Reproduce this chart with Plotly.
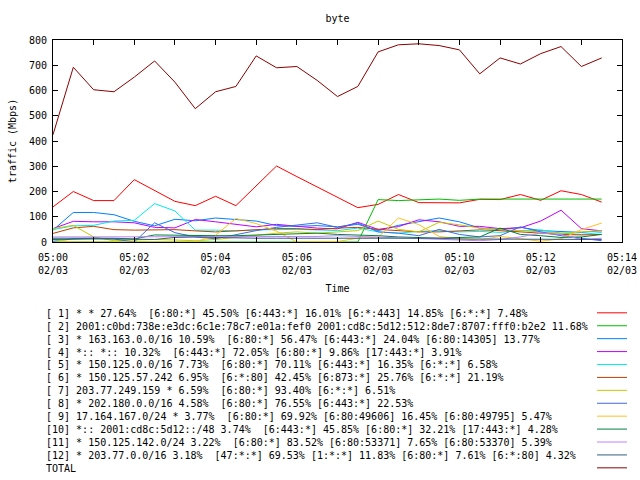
import plotly.graph_objects as go

# ---------------- data ----------------
times = [
    "2024-02-03 05:00:00", "2024-02-03 05:00:30", "2024-02-03 05:01:00", "2024-02-03 05:01:30",
    "2024-02-03 05:02:00", "2024-02-03 05:02:30", "2024-02-03 05:03:00", "2024-02-03 05:03:30",
    "2024-02-03 05:04:00", "2024-02-03 05:04:30", "2024-02-03 05:05:00", "2024-02-03 05:05:30",
    "2024-02-03 05:06:00", "2024-02-03 05:06:30", "2024-02-03 05:07:00", "2024-02-03 05:07:30",
    "2024-02-03 05:08:00", "2024-02-03 05:08:30", "2024-02-03 05:09:00", "2024-02-03 05:09:30",
    "2024-02-03 05:10:00", "2024-02-03 05:10:30", "2024-02-03 05:11:00", "2024-02-03 05:11:30",
    "2024-02-03 05:12:00", "2024-02-03 05:12:30", "2024-02-03 05:13:00", "2024-02-03 05:13:30",
]

s1 = [139, 200, 164, 164, 247, 205, 161, 144, 181, 144, 222, 301, 259, 218, 177, 136, 149, 188, 156, 156, 155, 169, 168, 188, 165, 203, 188, 158]
s2 = [0, 0, 0, 0, 0, 0, 0, 0, 0, 0, 0, 0, 0, 0, 0, 0, 168, 164, 167, 170, 165, 170, 170, 170, 168, 170, 170, 170]
s3 = [47, 117, 117, 108, 82, 64, 90, 84, 95, 90, 83, 65, 62, 65, 60, 70, 45, 66, 80, 95, 80, 55, 50, 58, 45, 42, 38, 45]
s4 = [53, 82, 80, 80, 76, 58, 56, 89, 80, 69, 60, 70, 62, 55, 52, 78, 50, 61, 88, 80, 62, 62, 53, 56, 83, 126, 53, 44]
s5 = [49, 64, 66, 83, 86, 152, 123, 47, 47, 44, 48, 50, 50, 48, 45, 55, 40, 35, 42, 45, 40, 42, 38, 45, 48, 35, 30, 38]
s6 = [34, 56, 62, 49, 47, 47, 49, 44, 40, 44, 49, 53, 53, 49, 55, 58, 50, 45, 40, 40, 45, 48, 45, 40, 35, 30, 28, 30]
s7 = [53, 66, 20, 5, 8, 10, 8, 5, 10, 18, 25, 35, 40, 35, 40, 45, 83, 50, 40, 78, 68, 55, 50, 45, 40, 35, 40, 45]
s8 = [3, 13, 15, 12, 0, 76, 37, 20, 13, 30, 45, 58, 66, 76, 58, 75, 40, 35, 25, 50, 30, 20, 25, 60, 40, 25, 15, 5]
s9 = [10, 0, 0, 0, 0, 0, 0, 0, 27, 93, 73, 43, 0, 0, 2, 15, 19, 95, 69, 22, 13, 8, 22, 13, 3, 13, 49, 75]
s10 = [15, 15, 15, 15, 12, 28, 27, 25, 25, 25, 27, 30, 33, 35, 30, 28, 25, 20, 18, 15, 18, 20, 55, 30, 25, 18, 20, 30]
s11 = [20, 20, 22, 22, 20, 22, 22, 22, 22, 22, 20, 20, 22, 22, 25, 22, 18, 15, 12, 10, 8, 5, 10, 20, 35, 30, 10, 15]
s12 = [10, 12, 12, 12, 10, 10, 18, 20, 18, 15, 15, 15, 15, 15, 15, 15, 15, 15, 15, 15, 12, 12, 12, 10, 10, 10, 10, 10]
total = [425, 692, 603, 595, 653, 717, 633, 528, 595, 616, 737, 690, 695, 640, 576, 616, 753, 781, 785, 778, 761, 666, 729, 705, 746, 774, 695, 729]

labels = [
    "[ 1] * * 27.64%  [6:80:*] 45.50% [6:443:*] 16.01% [6:*:443] 14.85% [6:*:*] 7.48%",
    "[ 2] 2001:c0bd:738e:e3dc:6c1e:78c7:e01a:fef0 2001:cd8c:5d12:512:8de7:8707:fff0:b2e2 11.68%",
    "[ 3] * 163.163.0.0/16 10.59%  [6:80:*] 56.47% [6:443:*] 24.04% [6:80:14305] 13.77%",
    "[ 4] *:: *:: 10.32%  [6:443:*] 72.05% [6:80:*] 9.86% [17:443:*] 3.91%",
    "[ 5] * 150.125.0.0/16 7.73%  [6:80:*] 70.11% [6:443:*] 16.35% [6:*:*] 6.58%",
    "[ 6] * 150.125.57.242 6.95%  [6:*:80] 42.45% [6:873:*] 25.76% [6:*:*] 21.19%",
    "[ 7] 203.77.249.159 * 6.59%  [6:80:*] 93.40% [6:*:*] 6.51%",
    "[ 8] * 202.180.0.0/16 4.58%  [6:80:*] 76.55% [6:443:*] 22.53%",
    "[ 9] 17.164.167.0/24 * 3.77%  [6:80:*] 69.92% [6:80:49606] 16.45% [6:80:49795] 5.47%",
    "[10] *:: 2001:cd8c:5d12::/48 3.74%  [6:443:*] 45.85% [6:80:*] 32.21% [17:443:*] 4.28%",
    "[11] * 150.125.142.0/24 3.22%  [6:80:*] 83.52% [6:80:53371] 7.65% [6:80:53370] 5.39%",
    "[12] * 203.77.0.0/16 3.18%  [47:*:*] 69.53% [1:*:*] 11.83% [6:80:*] 7.61% [6:*:80] 4.32%",
    "TOTAL",
]

colors = ["#ff0000", "#00c000", "#0080ff", "#c000ff", "#00eeee", "#c04000",
          "#c8c800", "#4169e1", "#ffc020", "#008040", "#c080ff", "#306080", "#8b0000"]

tick_vals = ["2024-02-03 05:%02d:00" % m for m in range(0, 15)]
tick_text = ["05:00<br>02/03", "", "05:02<br>02/03", "", "05:04<br>02/03", "",
             "05:06<br>02/03", "", "05:08<br>02/03", "", "05:10<br>02/03", "",
             "05:12<br>02/03", "", "05:14<br>02/03"]

series = [s1, s2, s3, s4, s5, s6, s7, s8, s9, s10, s11, s12, total]

# ---------------- figure ----------------
FONT = "DejaVu Sans Mono"
W, H = 640, 480
L, R, T, B = 52.5, 622, 39.5, 242

fig = go.Figure()
for ys, c, lab in zip(series, colors, labels):
    fig.add_trace(go.Scatter(x=times, y=ys, mode="lines", name=lab,
                             line=dict(color=c, width=1), showlegend=False))

def px2paper_x(px):
    return (px - L) / (R - L)

def px2paper_y(py):
    return (B - py) / (B - T)

annotations = []
shapes = []
for i, (lab, c) in enumerate(zip(labels, colors)):
    yrow = 313.5 + 12.95 * i
    annotations.append(dict(
        x=px2paper_x(43), y=px2paper_y(yrow), xref="paper", yref="paper",
        xanchor="left", yanchor="middle", showarrow=False,
        text=lab.replace("  ", " \u00a0"),
        font=dict(family=FONT, size=10, color="black"),
    ))
    shapes.append(dict(
        type="line", xref="paper", yref="paper",
        x0=px2paper_x(597), x1=px2paper_x(627),
        y0=px2paper_y(yrow - 0.5), y1=px2paper_y(yrow - 0.5),
        line=dict(color=c, width=1),
    ))

fig.update_layout(
    template="none",
    width=W, height=H,
    margin=dict(l=L, r=W - R, t=T, b=H - B, pad=0, autoexpand=False),
    paper_bgcolor="white", plot_bgcolor="white",
    font=dict(family=FONT, size=10, color="black"),
    title=dict(text="byte", x=0.5, xref="paper", y=1 - 18 / H, yref="container",
               xanchor="center", yanchor="middle", automargin=False,
               font=dict(family=FONT, size=10, color="black")),
    annotations=annotations,
    shapes=shapes,
    showlegend=False,
    xaxis=dict(
        type="date", automargin=False,
        range=["2024-02-03 05:00:00", "2024-02-03 05:14:00"],
        tickmode="array", tickvals=tick_vals, ticktext=tick_text,
        ticks="inside", ticklen=5, tickcolor="black", tickwidth=1,
        ticklabelstandoff=6,
        showline=True, linecolor="black", linewidth=1, mirror="allticks",
        showgrid=False, zeroline=False,
        title=dict(text="Time", standoff=9, font=dict(family=FONT, size=10)),
    ),
    yaxis=dict(
        automargin=False,
        range=[0, 800], dtick=100, tick0=0,
        ticks="inside", ticklen=5, tickcolor="black", tickwidth=1,
        ticklabelstandoff=3,
        showline=True, linecolor="black", linewidth=1, mirror="allticks",
        showgrid=False, zeroline=False,
        title=dict(text="traffic (Mbps)", standoff=10, font=dict(family=FONT, size=10)),
    ),
)

fig.write_html("out.html", config={"displayModeBar": False},
               post_script="document.body.style.margin='0px';document.body.style.overflow='hidden';")
